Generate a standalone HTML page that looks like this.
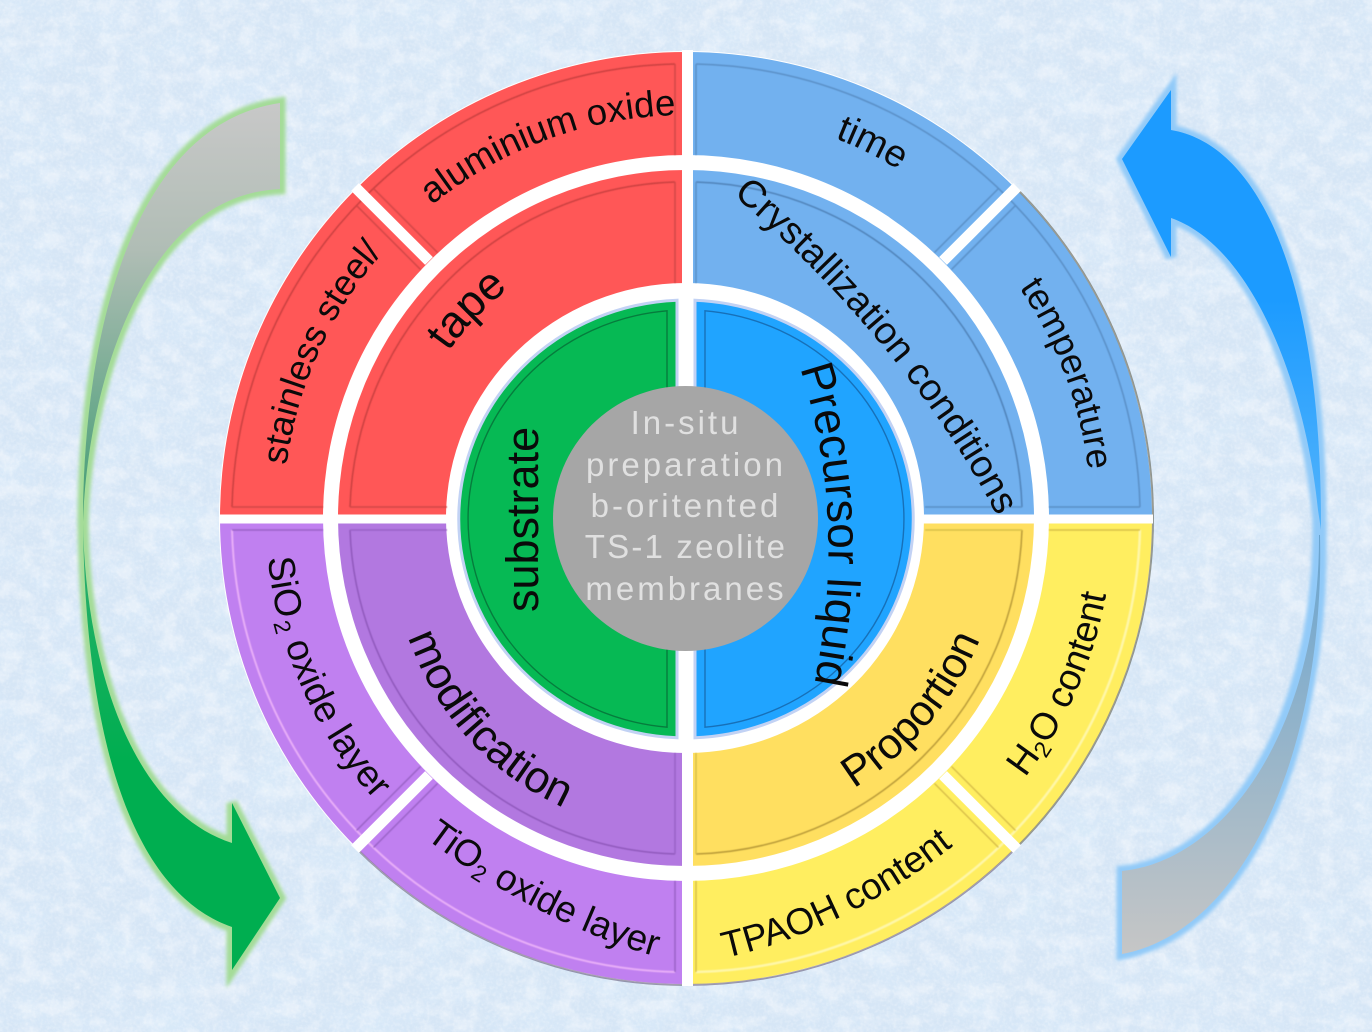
<!DOCTYPE html>
<html>
<head>
<meta charset="utf-8">
<style>
html,body{margin:0;padding:0;background:#d6e6f6;}
svg{display:block;}
text{font-family:"Liberation Sans",sans-serif;fill:#0a0a0a;}
</style>
</head>
<body>
<svg width="1372" height="1032" viewBox="0 0 1372 1032" xmlns="http://www.w3.org/2000/svg">
<defs>
<filter id="bg1" x="0" y="0" width="100%" height="100%">
  <feTurbulence type="fractalNoise" baseFrequency="0.02 0.026" numOctaves="4" seed="7"/>
  <feColorMatrix type="matrix" values="0 0 0 0 0.70  0 0 0 0 0.83  0 0 0 0 0.96  3 0 0 0 -1.3"/>
</filter>
<filter id="bg2" x="0" y="0" width="100%" height="100%">
  <feTurbulence type="fractalNoise" baseFrequency="0.05 0.06" numOctaves="4" seed="23"/>
  <feColorMatrix type="matrix" values="0 0 0 0 0.97  0 0 0 0 0.98  0 0 0 0 1  3 0 0 0 -1.3"/>
</filter>
<filter id="bg3" x="0" y="0" width="100%" height="100%">
  <feTurbulence type="fractalNoise" baseFrequency="0.3" numOctaves="2" seed="3"/>
  <feColorMatrix type="matrix" values="0 0 0 0 1  0 0 0 0 1  0 0 0 0 1  2.4 0 0 0 -1"/>
</filter>
<filter id="glow" x="-30%" y="-10%" width="160%" height="120%"><feGaussianBlur stdDeviation="1.8"/></filter>
<filter id="soft" x="-5%" y="-5%" width="110%" height="110%"><feGaussianBlur stdDeviation="0.5"/></filter>
<linearGradient id="gTop" gradientUnits="userSpaceOnUse" x1="0" y1="103" x2="0" y2="522">
  <stop offset="0" stop-color="#c8c8c8"/><stop offset="0.35" stop-color="#b0bdb5"/><stop offset="1" stop-color="#3f9c72"/>
</linearGradient>
<linearGradient id="gBot" gradientUnits="userSpaceOnUse" x1="0" y1="522" x2="0" y2="760">
  <stop offset="0" stop-color="#39a878"/><stop offset="0.45" stop-color="#18b060"/><stop offset="1" stop-color="#00ae50"/>
</linearGradient>
<linearGradient id="bTop" gradientUnits="userSpaceOnUse" x1="0" y1="300" x2="0" y2="530">
  <stop offset="0" stop-color="#1c9bff"/><stop offset="1" stop-color="#55b4fb"/>
</linearGradient>
<linearGradient id="bBot" gradientUnits="userSpaceOnUse" x1="0" y1="530" x2="0" y2="954">
  <stop offset="0" stop-color="#68a4d0"/><stop offset="0.55" stop-color="#9ab6c9"/><stop offset="1" stop-color="#c6c6c6"/>
</linearGradient>

<path id="c403" d="M283 518A403 403 0 1 1 1089 518A403 403 0 1 1 283 518"/>
<path id="c408" d="M278 518A408 408 0 1 1 1094 518A408 408 0 1 1 278 518"/>
<path id="c405" d="M281 518A405 405 0 1 1 1091 518A405 405 0 1 1 281 518"/>
<path id="cry" d="M733 195C800 250 930 380 1000 522L1010 560"/>
<path id="c290" d="M396 518A290 290 0 1 1 976 518A290 290 0 1 1 396 518"/>
<path id="a420" d="M266 518A420 420 0 1 0 1106 518A420 420 0 1 0 266 518"/>
<path id="a427" d="M259 518A427 427 0 1 0 1113 518A427 427 0 1 0 259 518"/>
<path id="a318" d="M368 518A318 318 0 1 0 1004 518A318 318 0 1 0 368 518"/>
<path id="pMod" d="M408 637Q458 775 600 822"/>
<path id="pTi" d="M425 838Q545 928 672 961"/>
<path id="pTP" d="M725 958Q858 928 980 824"/>
<path id="pPre" d="M800 368Q850 520 812 695"/>
</defs>

<rect width="1372" height="1032" fill="#d6e6f6"/>
<rect width="1372" height="1032" filter="url(#bg1)" opacity="0.6"/>
<rect width="1372" height="1032" filter="url(#bg2)" opacity="0.4"/>
<rect width="1372" height="1032" filter="url(#bg3)" opacity="0.25"/>

<!-- green arrow -->
<path d="M280 103C130 125 83 340 83 522C85 720 125 890 232 927L232 970L280 898L232 803L232 843C130 810 85 660 83 522C88 380 145 195 280 189Z" fill="#a4dc98" stroke="#a4dc98" stroke-width="11" filter="url(#glow)"/>
<path d="M280 103C130 125 83 340 83 522C88 380 145 195 280 189Z" fill="url(#gTop)"/>
<path d="M83 522C85 720 125 890 232 927L232 970L280 898L232 803L232 843C130 810 85 660 83 522Z" fill="url(#gBot)"/>

<!-- blue arrow -->
<path d="M1122 159L1171 90L1171 130C1260 145 1322 280 1321 530C1325 740 1250 930 1122 954L1122 871C1230 860 1320 720 1318 520C1305 380 1250 245 1171 218L1171 257Z" fill="#92caf8" stroke="#92caf8" stroke-width="11" filter="url(#glow)"/>
<path d="M1122 159L1171 90L1171 130C1260 145 1322 280 1321 530L1318 510C1305 380 1250 245 1171 218L1171 257Z" fill="url(#bTop)"/>
<path d="M1320 535C1325 740 1250 930 1122 954L1122 871C1230 860 1320 720 1319 535Z" fill="url(#bBot)"/>

<!-- white disc -->
<circle cx="686" cy="518" r="467" fill="#fff"/>

<!-- outer ring -->
<path d="M220 518A466 466 0 0 1 686 52L686 155A363 363 0 0 0 323 518Z" fill="#ff5757"/>
<path d="M1152 518A466 466 0 0 0 686 52L686 155A363 363 0 0 1 1049 518Z" fill="#72b1ef"/>
<path d="M220 518A466 466 0 0 0 686 984L686 881A363 363 0 0 1 323 518Z" fill="#c080f0"/>
<path d="M1152 518A466 466 0 0 1 686 984L686 881A363 363 0 0 0 1049 518Z" fill="#ffee60"/>

<!-- mid ring -->
<path d="M338 518A348 348 0 0 1 686 170L686 283A240 235 0 0 0 446 518Z" fill="#ff5757"/>
<path d="M1034 518A348 348 0 0 0 686 170L686 283A238 235 0 0 1 924 518Z" fill="#72b1ef"/>
<path d="M338 518A348 348 0 0 0 686 866L686 753A240 235 0 0 1 446 518Z" fill="#b278e0"/>
<path d="M1034 518A348 348 0 0 1 686 866L686 753A238 235 0 0 0 924 518Z" fill="#ffdf60"/>

<!-- bevel lines -->
<g fill="none" stroke-width="1.5" filter="url(#soft)">
  <path d="M232 507A454 454 0 0 1 675 64" stroke="#c94040"/>
  <path d="M350 507A336 336 0 0 1 675 182" stroke="#c94040"/>
  <path d="M696 64A454 454 0 0 1 1140 507" stroke="#5a8fc6"/>
  <path d="M696 182A336 336 0 0 1 1022 507" stroke="#4f82b8"/>
  <path d="M232 530A454 454 0 0 0 675 972" stroke="#e8aef8" stroke-width="2"/>
  <path d="M350 530A336 336 0 0 0 675 854" stroke="#8f58bb"/>
  <path d="M1140 530A454 454 0 0 1 696 972" stroke="#fff7a8" stroke-width="2.5"/>
  <path d="M1022 530A336 336 0 0 1 696 854" stroke="#b89a38"/>
  <path d="M232 530L323 530M350 530L447 530" stroke="#9a62c6"/>
  <path d="M1140 530L1049 530M1022 530L925 530" stroke="#d8bf48"/>
  <path d="M232 507L323 507M350 507L447 507" stroke="#d04646"/>
  <path d="M1140 507L1049 507M1022 507L925 507" stroke="#5a8fc6"/>
  <path d="M675 64L675 155M675 182L675 283" stroke="#d04646"/>
  <path d="M696 64L696 155M696 182L696 283" stroke="#5a8fc6"/>
  <path d="M675 881L675 972M675 753L675 854" stroke="#9a62c6"/>
  <path d="M696 881L696 972M696 753L696 854" stroke="#d8bf48"/>
  <path d="M373.500 188.500L437.500 252.500M356.500 205.500L420.500 269.500" stroke="#d04646"/>
  <path d="M998.500 188.500L934.500 252.500M1015.500 205.500L951.500 269.500" stroke="#5a8fc6"/>
  <path d="M373.500 847.500L437.500 783.500M356.500 830.500L420.500 766.500" stroke="#9a62c6"/>
  <path d="M998.500 847.500L934.500 783.500M1015.500 830.500L951.500 766.500" stroke="#d8bf48"/>
</g>
<path d="M1016 188A466 466 0 0 1 1016 848" fill="none" stroke="#4c4c3a" stroke-width="2" opacity="0.55"/>
<path d="M1016 848A466 466 0 0 1 356 848" fill="none" stroke="#3c2c50" stroke-width="2" opacity="0.45"/>

<!-- gaps -->
<rect x="682" y="50" width="11" height="936" fill="#fff"/>
<rect x="219" y="514.500" width="934" height="9" fill="#fff"/>
<g stroke="#fff" stroke-width="11">
  <line x1="429" y1="261" x2="355" y2="187"/>
  <line x1="943" y1="261" x2="1017" y2="187"/>
  <line x1="429" y1="775" x2="355" y2="849"/>
  <line x1="943" y1="775" x2="1017" y2="849"/>
</g>

<!-- inner halves -->
<path d="M677 300.200A228 219 0 0 0 677 737.800Z" fill="#06b954" stroke="#c2d2f4" stroke-width="3"/>
<path d="M695 300.200A228 219 0 0 1 695 737.800Z" fill="#20a4ff" stroke="#c2d2f4" stroke-width="3"/>
<path d="M667 310.800A218 209 0 0 0 667 727.200Z" fill="none" stroke="#067c3d" stroke-width="1.400"/>
<path d="M705 310.800A218 209 0 0 1 705 727.200Z" fill="none" stroke="#1770b8" stroke-width="1.400"/>

<!-- center -->
<circle cx="685.500" cy="518.500" r="132.500" fill="#a6a6a6"/>
<g font-size="33" text-anchor="middle" letter-spacing="3">
  <text x="686" y="434" style="fill:#e0e0e0">In-situ</text>
  <text x="686" y="476" style="fill:#e0e0e0">preparation</text>
  <text x="686" y="517" style="fill:#e0e0e0">b-oritented</text>
  <text x="686" y="558" letter-spacing="2.2" style="fill:#e0e0e0">TS-1 zeolite</text>
  <text x="686" y="600" style="fill:#e0e0e0">membranes</text>
</g>

<!-- labels -->
<text font-size="36"><textPath href="#c403" startOffset="53">stainless steel/</textPath></text>
<text font-size="36.600"><textPath href="#c403" startOffset="358">aluminium oxide</textPath></text>
<text font-size="38"><textPath href="#c408" startOffset="793">time</textPath></text>
<text font-size="36.500"><textPath href="#c405" startOffset="1027">temperature</textPath></text>
<text font-size="38"><textPath href="#cry">Crystallization conditions</textPath></text>
<text font-size="45"><textPath href="#c290" startOffset="177">tape</textPath></text>
<text font-size="45" transform="translate(538 612) rotate(-90)">substrate</text>
<text font-size="46"><textPath href="#pPre">Precursor liquid</textPath></text>
<text font-size="37.500"><textPath href="#a420" startOffset="40">SiO<tspan font-size="23" dy="6" dx="2">2</tspan><tspan dy="-6"> oxide layer</tspan></textPath></text>
<text font-size="37"><textPath href="#pTi">TiO<tspan font-size="23" dy="6">2</tspan><tspan dy="-6"> oxide layer</tspan></textPath></text>
<text font-size="37"><textPath href="#pTP">TPAOH content</textPath></text>
<text font-size="37.500"><textPath href="#a427" startOffset="1062">H<tspan font-size="23" dy="6">2</tspan><tspan dy="-6">O content</tspan></textPath></text>
<text font-size="43"><textPath href="#a318" startOffset="676">Proportion</textPath></text>
<text font-size="44.500"><textPath href="#pMod">modification</textPath></text>
</svg>
</body>
</html>
